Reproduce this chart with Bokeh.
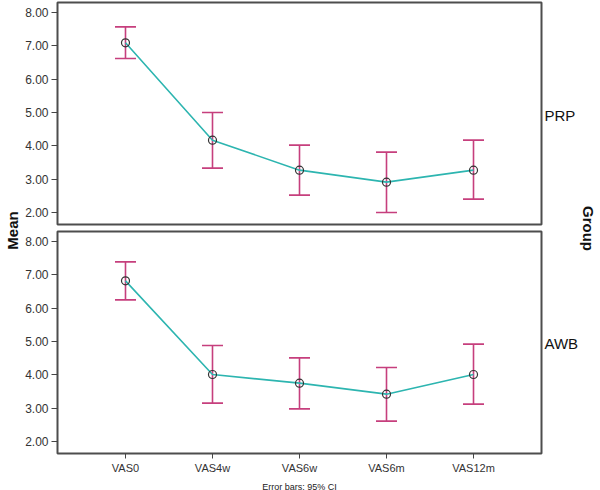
import math
from bokeh.plotting import figure
from bokeh.models import (ColumnDataSource, Whisker, TeeHead, FixedTicker,
                          PrintfTickFormatter, Label, FactorRange, Range1d)
from bokeh.layouts import row, column
from bokeh.embed import file_html
from bokeh.resources import INLINE

# ---- data ----
categories = ["VAS0", "VAS4w", "VAS6w", "VAS6m", "VAS12m"]
prp_mean = [7.09, 4.17, 3.27, 2.91, 3.27]
prp_upper = [7.57, 5.00, 4.02, 3.81, 4.17]
prp_lower = [6.62, 3.33, 2.52, 2.00, 2.40]
awb_mean = [6.82, 4.01, 3.75, 3.42, 4.01]
awb_upper = [7.39, 4.88, 4.51, 4.22, 4.92]
awb_lower = [6.25, 3.15, 2.98, 2.61, 3.12]
y_ticks = [2, 3, 4, 5, 6, 7, 8]
group_names = ["PRP", "AWB"]

BAR = "#c63f7d"
LINE = "#2db5b0"
FONT = "Liberation Sans"
FW = 484
FH = 222

xr = FactorRange(factors=categories, range_padding=0.1126)


def panel(mean, upper, lower, yr, bottom):
    src = ColumnDataSource(dict(cat=categories, mean=mean, upper=upper, lower=lower))
    kw = dict(x_range=xr, y_range=Range1d(*yr), frame_width=FW, frame_height=FH,
              output_backend="svg", toolbar_location=None,
              min_border_left=34, min_border_right=2)
    if bottom:
        kw.update(min_border_top=3, min_border_bottom=37, x_axis_location="below")
    else:
        kw.update(min_border_top=2, min_border_bottom=4, x_axis_location=None)
    p = figure(**kw)
    p.background_fill_color = "white"
    p.border_fill_color = "white"
    p.outline_line_color = "#4d4d4d"
    p.outline_line_width = 2
    p.xgrid.visible = False
    p.ygrid.visible = False

    w = Whisker(source=src, base="cat", upper="upper", lower="lower", dimension="height",
                line_color=BAR, line_width=1.6, level="underlay",
                upper_head=TeeHead(size=21, line_color=BAR, line_width=1.6),
                lower_head=TeeHead(size=21, line_color=BAR, line_width=1.6))
    p.add_layout(w)
    p.line("cat", "mean", source=src, line_color=LINE, line_width=1.6)
    p.scatter("cat", "mean", source=src, size=8, fill_color=None,
              line_color="#333333", line_width=1.2)

    ya = p.yaxis[0]
    ya.ticker = FixedTicker(ticks=y_ticks, minor_ticks=[])
    ya.formatter = PrintfTickFormatter(format="%.2f")
    ya.major_label_text_font = FONT
    ya.major_label_text_font_size = "12px"
    ya.major_label_text_color = "#333333"
    ya.major_tick_out = 6
    ya.major_tick_in = 0
    ya.major_tick_line_color = "#444444"
    ya.minor_tick_line_color = None
    ya.axis_line_color = None
    ya.major_label_standoff = 3

    if bottom:
        xa = p.xaxis[0]
        xa.major_label_text_font = FONT
        xa.major_label_text_font_size = "11px"
        xa.major_label_text_color = "#333333"
        xa.major_tick_out = 5
        xa.major_tick_in = 0
        xa.major_tick_line_color = "#444444"
        xa.axis_line_color = None
        xa.major_label_standoff = 3
        xa.axis_label = "Error bars: 95% CI"
        xa.axis_label_text_font = FONT
        xa.axis_label_text_font_size = "9px"
        xa.axis_label_text_font_style = "normal"
        xa.axis_label_text_color = "#222222"
        xa.axis_label_standoff = 5
    return p


p1 = panel(prp_mean, prp_upper, prp_lower, (1.64, 8.3), False)
p2 = panel(awb_mean, awb_upper, awb_lower, (1.64, 8.3), True)

H = 489


def side(w):
    s = figure(width=w, height=H, x_axis_location=None, y_axis_location=None,
               toolbar_location=None, output_backend="svg", min_border=0,
               x_range=Range1d(0, 1), y_range=Range1d(0, 1))
    s.outline_line_color = None
    s.grid.visible = False
    return s


def add_text(s, text, x, y, angle=0.0, bold=True, align="center"):
    s.add_layout(Label(x=x, y=y, x_units="screen", y_units="screen", text=text,
                       angle=angle, text_align=align, text_baseline="middle",
                       text_font=FONT, text_font_style="bold" if bold else "normal",
                       text_font_size="15px", text_color="#111111"))


s_left = side(22)
add_text(s_left, "Mean", 12, H - 230, angle=math.pi / 2)

s_right = side(56)
add_text(s_right, group_names[0], 1, H - 115, bold=False, align="left")
add_text(s_right, group_names[1], 1, H - 343, bold=False, align="left")
add_text(s_right, "Group", 45, H - 228, angle=-math.pi / 2)

layout = row(s_left, column(p1, p2), s_right)

open("out.html", "w").write(file_html(layout, INLINE))
